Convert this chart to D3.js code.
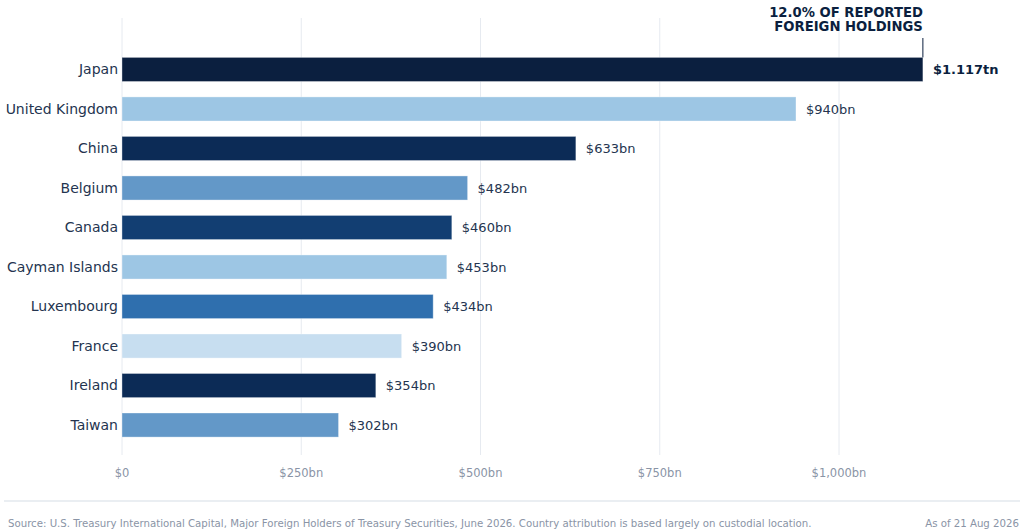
<!DOCTYPE html>
<html>
<head>
<meta charset="utf-8">
<script src="https://cdn.jsdelivr.net/npm/d3@7"></script>
<style>
  body { margin: 0; background: #fff; font-family: "DejaVu Sans", sans-serif; }
  svg { display: block; }
</style>
</head>
<body>
<svg id="chart" width="1024" height="532"></svg>
<script>
// holdings by country, $bn
const countries = ["Japan", "United Kingdom", "China", "Belgium", "Canada",
  "Cayman Islands", "Luxembourg", "France", "Ireland", "Taiwan"];
const holdings = [1117, 940, 633, 482, 460, 453, 434, 390, 354, 302];
const barColors = ["#0b1f3f", "#9dc6e4", "#0c2b56", "#6398c8", "#123e72",
  "#9dc6e4", "#2f6fae", "#c7def0", "#0c2b56", "#6398c8"];
const valueLabels = ["$1.117tn", "$940bn", "$633bn", "$482bn", "$460bn",
  "$453bn", "$434bn", "$390bn", "$354bn", "$302bn"];
const tickValues = [0, 250, 500, 750, 1000];
const tickLabels = ["$0", "$250bn", "$500bn", "$750bn", "$1,000bn"];
const annotation = ["12.0% OF REPORTED", "FOREIGN HOLDINGS"];

const svg = d3.select("#chart");
const margin = { top: 18, left: 122, plotBottom: 455 };

const x = d3.scaleLinear().domain([0, 1000]).range([122, 839]);
const y = d3.scaleBand().domain(countries).range([49.5, 445]).paddingInner(0.39).paddingOuter(0.2);

// grid
svg.append("g").selectAll("line").data(tickValues).join("line")
  .attr("x1", d => x(d)).attr("x2", d => x(d))
  .attr("y1", margin.top).attr("y2", margin.plotBottom)
  .attr("stroke", "#e6eaf0").attr("stroke-width", 1);

// x tick labels
svg.append("g").selectAll("text").data(tickValues).join("text")
  .attr("x", d => x(d)).attr("y", 477)
  .attr("text-anchor", "middle")
  .attr("font-size", 11.5).attr("fill", "#8a94a6")
  .text((d, i) => tickLabels[i]);

// bars
svg.append("g").selectAll("rect").data(countries).join("rect")
  .attr("x", x(0))
  .attr("y", d => y(d))
  .attr("height", y.bandwidth())
  .attr("width", (d, i) => x(holdings[i]) - x(0))
  .attr("fill", (d, i) => barColors[i])
  .attr("stroke", "rgba(255,255,255,0.35)")
  .attr("stroke-width", 1);

// category labels
svg.append("g").selectAll("text").data(countries).join("text")
  .attr("x", 118)
  .attr("y", d => y(d) + y.bandwidth() / 2)
  .attr("dy", "0.35em")
  .attr("text-anchor", "end")
  .attr("font-size", 14).attr("fill", "#24344f")
  .text(d => d);

// value labels
svg.append("g").selectAll("text").data(countries).join("text")
  .attr("x", (d, i) => x(holdings[i]) + 10)
  .attr("y", d => y(d) + y.bandwidth() / 2)
  .attr("dy", "0.35em")
  .attr("font-size", 13)
  .attr("font-weight", (d, i) => i === 0 ? "bold" : "normal")
  .attr("fill", (d, i) => i === 0 ? "#0b1f3f" : "#24344f")
  .text((d, i) => valueLabels[i]);

// annotation on the top bar
const topX = x(holdings[0]);
svg.append("line")
  .attr("x1", topX).attr("x2", topX)
  .attr("y1", 38).attr("y2", y(countries[0]))
  .attr("stroke", "#0b1f3f").attr("stroke-width", 1);
svg.append("g").selectAll("text").data(annotation).join("text")
  .attr("x", topX).attr("y", (d, i) => 17 + i * 14)
  .attr("text-anchor", "end")
  .attr("font-size", 13.2).attr("font-weight", "bold")
  .attr("fill", "#0b1f3f")
  .text(d => d);

// footer
svg.append("line")
  .attr("x1", 4).attr("x2", 1020).attr("y1", 501).attr("y2", 501)
  .attr("stroke", "#e3e8ee").attr("stroke-width", 1.5);
svg.append("text")
  .attr("x", 8).attr("y", 527)
  .attr("font-size", 10.2).attr("fill", "#8a94a6")
  .text("Source: U.S. Treasury International Capital, Major Foreign Holders of Treasury Securities, June 2026. Country attribution is based largely on custodial location.");
svg.append("text")
  .attr("x", 1019).attr("y", 527)
  .attr("text-anchor", "end")
  .attr("font-size", 10.2).attr("fill", "#8a94a6")
  .text("As of 21 Aug 2026");
</script>
</body>
</html>
